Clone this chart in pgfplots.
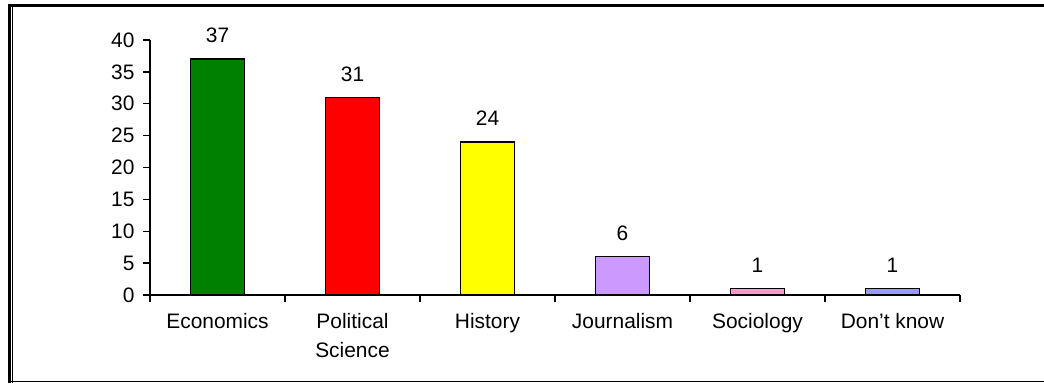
\documentclass[border=0pt]{standalone}
\usepackage{pgfplots}
\pgfplotsset{compat=1.18}
\usepackage{fontspec}
\setmainfont{Liberation Sans}
\definecolor{cEco}{HTML}{008000}
\definecolor{cPol}{HTML}{FF0000}
\definecolor{cHis}{HTML}{FFFF00}
\definecolor{cJou}{HTML}{CC99FF}
\definecolor{cSoc}{HTML}{FF99CC}
\definecolor{cDk}{HTML}{9999FF}
\begin{document}
\begin{tikzpicture}[x=1bp,y=1bp]
\useasboundingbox (0,0) rectangle (1044,383);
\fill[white] (0,0) rectangle (1044,383);
% frame
\draw[line width=3bp] (9.6,0) -- (9.6,377.5) -- (1044,377.5);
\draw[line width=1.2bp] (12.8,0) -- (12.8,376);
\draw[line width=1.2bp] (9,1.5) -- (1044,1.5);
\begin{axis}[
  at={(150bp,88bp)}, anchor=south west,
  scale only axis, width=810bp, height=255bp,
  xmin=-0.5, xmax=5.5, ymin=0, ymax=40,
  axis lines*=left,
  axis line style={line width=1.3bp},
  tick align=outside,
  major tick length=7bp, minor tick length=7bp,
  tick style={line width=1.3bp, black},
  ytick={0,5,...,40},
  xtick={0,1,2,3,4,5},
  xticklabels={Economics, Political\\Science, History, Journalism, Sociology, Don’t know},
  minor xtick={-0.5,0.5,1.5,2.5,3.5,4.5,5.5},
  every major x tick/.append style={draw=none},
  /pgf/number format/assume math mode=true,
  tick label style={font=\fontsize{21}{29}\selectfont},
  xticklabel style={align=center, yshift=-8bp},
  yticklabel style={xshift=-5bp},
  bar width=0.4,
  ybar, bar shift=0pt,
  nodes near coords,
  nodes near coords style={font=\fontsize{21}{24}\selectfont, yshift=12bp},
  clip=false,
]
\addplot[fill=cEco, draw=black, line width=1.4bp] coordinates {(0,37)};
\addplot[fill=cPol, draw=black, line width=1.4bp] coordinates {(1,31)};
\addplot[fill=cHis, draw=black, line width=1.4bp] coordinates {(2,24)};
\addplot[fill=cJou, draw=black, line width=1.4bp] coordinates {(3,6)};
\addplot[fill=cSoc, draw=black, line width=1.4bp] coordinates {(4,1)};
\addplot[fill=cDk, draw=black, line width=1.4bp] coordinates {(5,1)};
\end{axis}
\end{tikzpicture}
\end{document}
